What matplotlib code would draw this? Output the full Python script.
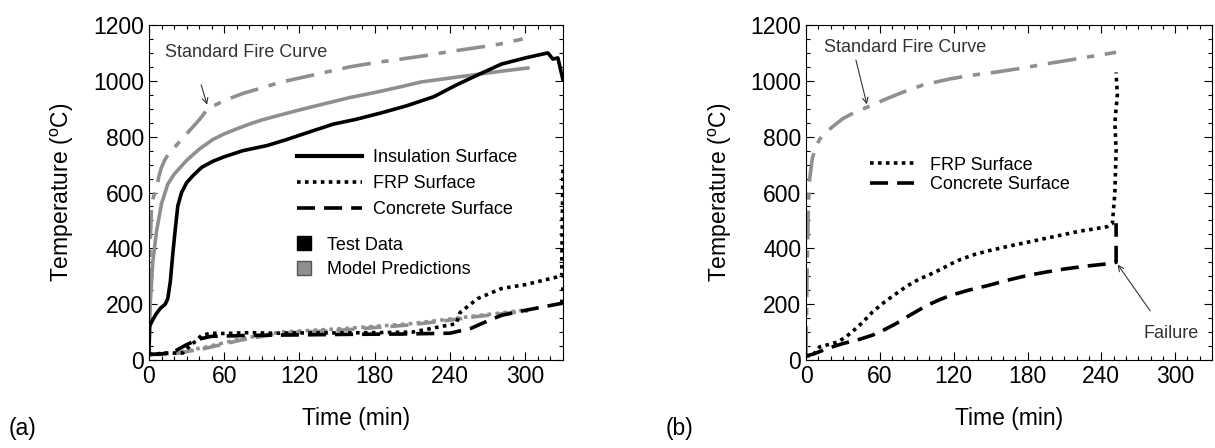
"""Fire test temperatures: (a) insulated beam, (b) uninsulated beam"""

import matplotlib

matplotlib.use("Agg")
import matplotlib.pyplot as plt
from matplotlib.lines import Line2D
from matplotlib.ticker import MultipleLocator

plt.rcParams["font.family"] = ["Liberation Sans", "DejaVu Sans"]
plt.rcParams["mathtext.fontset"] = "custom"
plt.rcParams["mathtext.rm"] = "Liberation Sans"

GRAY = "#8f8f8f"

# ---- panel (a) ----
fire_a_t = [0, 0.5, 1, 2, 3, 4, 6, 8, 10, 13, 16, 19, 23, 28, 34, 40, 47, 55, 65, 75, 90, 105,
            120, 140, 160, 180, 201, 220, 240, 260, 280, 298]
fire_a_T = [20, 250, 420, 540, 575, 590, 610, 660, 690, 720, 740, 754, 775, 800, 830, 860, 900, 918,
            938, 955, 975, 995, 1010, 1030, 1050, 1065, 1078, 1090, 1105, 1118, 1132, 1150]

ins_test_t = [0, 0.5, 2, 5, 9, 13, 15, 17, 19, 21, 23, 26, 30, 35, 42, 51, 60, 75, 94, 110, 130,
              147, 165, 185, 205, 227, 245, 262, 281, 300, 310, 318, 322, 326, 330]
ins_test_T = [20, 120, 135, 160, 185, 200, 220, 280, 380, 470, 552, 600, 635, 660, 690, 712, 728,
              750, 768, 790, 820, 845, 862, 885, 910, 943, 985, 1021, 1060, 1082, 1092, 1100, 1078,
              1082, 1004]

ins_model_t = [0, 1, 3, 6, 10, 15, 20, 30, 40, 51, 60, 70, 80, 90, 105, 121, 140, 160, 180, 200,
               217, 240, 260, 280, 302]
ins_model_T = [20, 200, 350, 460, 560, 630, 665, 715, 755, 790, 810, 828, 845, 860, 878, 897, 918,
               940, 958, 978, 996, 1010, 1022, 1034, 1046]

frp_test_t = [0, 5, 15, 27, 33, 38, 42, 50, 60, 80, 100, 120, 150, 180, 210, 233, 245, 248, 262,
              281, 300, 326, 329, 330]
frp_test_T = [20, 22, 25, 25, 53, 70, 89, 96, 95, 98, 96, 97, 97, 98, 100, 120, 130, 170, 220, 256,
              270, 298, 300, 683]

conc_test_t = [0, 10, 20, 30, 40, 50, 80, 120, 160, 200, 240, 257, 270, 281, 300, 329, 330]
conc_test_T = [20, 22, 30, 55, 75, 85, 88, 90, 92, 93, 96, 114, 140, 160, 178, 203, 260]

model_low_t = [0, 10, 20, 30, 46, 73, 105, 153, 206, 233, 260, 302]
frp_model_T = [20, 21, 24, 33, 47, 76, 100, 112, 129, 143, 158, 180]
conc_model_T = [20, 20, 22, 30, 43, 71, 96, 107, 125, 139, 155, 176]

# ---- panel (b) ----
fire_b_t = [0, 1, 2, 3, 5, 8, 11, 14, 20, 30, 40, 50, 65, 79, 95, 117, 135, 154, 175, 194, 215,
            235, 252]
fire_b_T = [18, 350, 560, 650, 720, 765, 790, 805, 830, 865, 888, 906, 935, 960, 985, 1007, 1020,
            1031, 1045, 1060, 1075, 1090, 1102]

frp_b_t = [0, 5, 8, 11, 18, 26, 33, 39, 46, 54, 63, 73, 82, 92, 100, 110, 118, 126, 137, 148, 163,
           179, 195, 210, 223, 235, 245, 249, 251, 252, 251, 253, 252]
frp_b_T = [15, 15, 30, 47, 55, 65, 85, 107, 135, 172, 205, 237, 265, 290, 305, 326, 345, 361, 378,
           391, 406, 421, 436, 450, 462, 470, 478, 489, 600, 750, 850, 950, 1030]

conc_b_t = [0, 5, 11, 20, 30, 42, 54, 63, 73, 85, 98, 107, 117, 132, 148, 163, 179, 195, 210, 227,
            244, 252, 252]
conc_b_T = [15, 20, 30, 45, 59, 72, 89, 107, 130, 162, 195, 213, 231, 250, 267, 285, 302, 315, 326,
            336, 344, 350, 490]

LW = 2.6
fire_style = dict(color=GRAY, lw=LW, dashes=(8, 3, 2, 3))
dot_style = dict(lw=LW, linestyle=(0, (1, 1.2)))
dash_style = dict(lw=LW, dashes=(5, 2.5))


def style_axes(ax):
    ax.set_xlim(0, 330)
    ax.set_ylim(0, 1200)
    ax.set_xticks([0, 60, 120, 180, 240, 300])
    ax.xaxis.set_minor_locator(MultipleLocator(10))
    ax.yaxis.set_major_locator(MultipleLocator(200))
    ax.yaxis.set_minor_locator(MultipleLocator(50))
    ax.tick_params(which="both", direction="in", top=True, right=True, labelsize=16.5)
    ax.tick_params(which="major", length=6, width=0.8)
    ax.tick_params(which="minor", length=3, width=0.8)
    ax.set_xlabel("Time (min)", fontsize=16.5, labelpad=14)
    ax.set_ylabel(r"Temperature ($^{\mathrm{o}}$C)", fontsize=16.5, labelpad=12)


fig = plt.figure(figsize=(12.15, 4.48), dpi=100)
ax1 = fig.add_axes([0.1226, 0.1964, 0.3407, 0.7478])
ax2 = fig.add_axes([0.6634, 0.1964, 0.3342, 0.7478])

# panel (a)
ax1.plot(fire_a_t, fire_a_T, **fire_style)
ax1.plot(ins_model_t, ins_model_T, color=GRAY, lw=LW)
ax1.plot(model_low_t, frp_model_T, color=GRAY, **dot_style)
ax1.plot(model_low_t, conc_model_T, color=GRAY, **dash_style)
ax1.plot(ins_test_t, ins_test_T, color="black", lw=LW)
ax1.plot(frp_test_t, frp_test_T, color="black", **dot_style)
ax1.plot(conc_test_t, conc_test_T, color="black", **dash_style)
style_axes(ax1)

ax1.text(13, 1100, "Standard Fire Curve", fontsize=13, va="center", color="#333333")
ax1.annotate("", xy=(47, 905), xytext=(41, 995),
             arrowprops=dict(arrowstyle="->", lw=0.8, color="#333333"))

line_handles = [
    Line2D([], [], color="black", lw=3),
    Line2D([], [], color="black", **dot_style),
    Line2D([], [], color="black", **dash_style),
]
leg1 = ax1.legend(line_handles, ["Insulation Surface", "FRP Surface", "Concrete Surface"],
                  loc="upper left", bbox_to_anchor=(0.357, 0.63), frameon=False,
                  fontsize=13, handlelength=3.6, handletextpad=0.6, labelspacing=0.5,
                  borderpad=0, borderaxespad=0)
ax1.add_artist(leg1)
square_handles = [
    Line2D([], [], ls="none", marker="s", ms=10, mfc="black", mec="black"),
    Line2D([], [], ls="none", marker="s", ms=10, mfc=GRAY, mec="#555555"),
]
ax1.legend(square_handles, ["Test Data", "Model Predictions"], loc="upper left",
           bbox_to_anchor=(0.357, 0.368), frameon=False, fontsize=13, handlelength=0.8,
           handletextpad=0.9, labelspacing=0.4, borderpad=0, borderaxespad=0)

# panel (b)
ax2.plot(fire_b_t, fire_b_T, **fire_style)
ax2.plot(frp_b_t, frp_b_T, color="black", **dot_style)
ax2.plot(conc_b_t, conc_b_T, color="black", **dash_style)
style_axes(ax2)

ax2.text(15, 1120, "Standard Fire Curve", fontsize=13, va="center", color="#333333")
ax2.annotate("", xy=(50, 906), xytext=(40, 1084),
             arrowprops=dict(arrowstyle="->", lw=0.8, color="#333333"))
ax2.text(274, 96, "Failure", fontsize=13, va="center", color="#333333")
ax2.annotate("", xy=(252, 350), xytext=(281, 168),
             arrowprops=dict(arrowstyle="->", lw=0.8, color="#333333"))
ax2.legend(line_handles[1:], ["FRP Surface", "Concrete Surface"], loc="upper left",
           bbox_to_anchor=(0.158, 0.607), frameon=False, fontsize=13, handlelength=2.4,
           handletextpad=0.9, labelspacing=0.15, borderpad=0, borderaxespad=0)

fig.text(0.007, 0.03, "(a)", fontsize=16.5)
fig.text(0.548, 0.03, "(b)", fontsize=16.5)

fig.savefig("out.png", dpi=100)
